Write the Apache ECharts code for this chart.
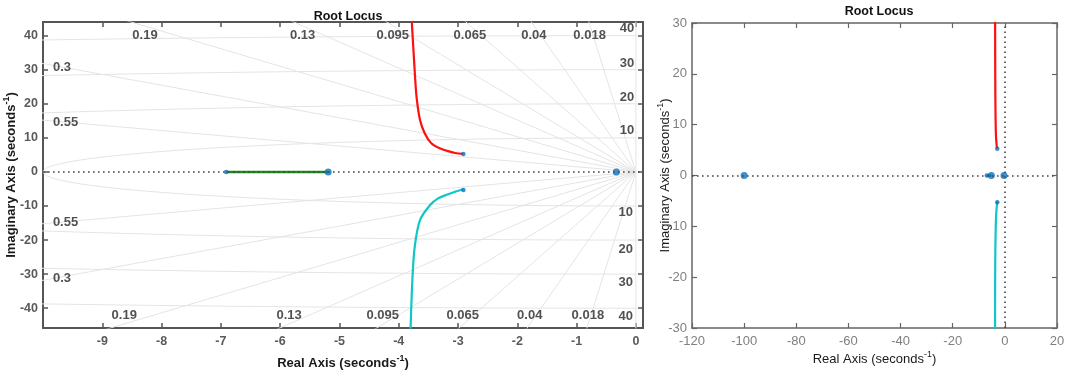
<!DOCTYPE html>
<html><head><meta charset="utf-8">
<script src="https://cdn.jsdelivr.net/npm/echarts@6/dist/echarts.min.js"></script>
<style>html,body{margin:0;padding:0;background:#fff}#c{width:1065px;height:372px}</style>
</head><body><div id="c"></div>
<script>
// ---------------- data ----------------
// root-locus branches
const redX  = [-2.91, -3.05, -3.14, -3.31, -3.45, -3.56, -3.64, -3.70, -3.735, -3.78];
const redY  = [ 5.28,  5.55,  5.95,  6.95,  8.4,  11.3,  15.2,  22.1,  30.9,  44.1];
const cyanX = [-2.91, -3.05, -3.19, -3.33, -3.47, -3.64, -3.73, -3.77, -3.80];
const cyanY = [-5.1,  -5.8,  -6.7,  -7.7,  -9.7, -14.1, -21.9, -31.7, -46.0];
const greenX = [-6.91, -5.19];
const greenY = [0, 0];
// pole / zero markers
const bigMarkX = [-0.33, -5.19, -100];
const bigMarkY = [0, 0, 0];
const smallMarkX = [-6.91, -2.91, -2.91];
const smallMarkY = [0, 5.28, -5.28];
// s-plane grid values
const zetaGrid = [0, 0.018, 0.04, 0.065, 0.095, 0.13, 0.19, 0.3, 0.55];
const wnGrid = [10, 20, 30, 40, 50];
// grid labels (text and position)
const zetaLabelText = ['0.19','0.13','0.095','0.065','0.04','0.018','0.19','0.13','0.095','0.065','0.04','0.018','0.3','0.55','0.55','0.3'];
const zetaLabelX = [-8.28,-5.62,-4.10,-2.80,-1.72,-0.78,-8.63,-5.85,-4.27,-2.92,-1.79,-0.81,-9.68,-9.62,-9.62,-9.68];
const zetaLabelY = [40.1,40.1,40.1,40.1,40.1,40.1,-42.1,-42.1,-42.1,-42.1,-42.1,-42.1,30.7,14.6,-14.9,-31.3];
const wnLabelText = ['40','30','20','10','10','20','30','40'];
const wnLabelX = [-0.15,-0.15,-0.15,-0.15,-0.17,-0.17,-0.17,-0.17];
const wnLabelY = [42.1,31.9,22.0,12.1,-12.0,-22.8,-32.5,-42.5];
// axis ticks
const leftXTicks = [-9,-8,-7,-6,-5,-4,-3,-2,-1,0];
const leftYTicks = [-40,-30,-20,-10,0,10,20,30,40];

// ---------------- build ----------------
const FONT = "'Liberation Sans', Arial, Helvetica, sans-serif";
const zip = (xs, ys) => xs.map((x, i) => [x, ys[i]]);
const GRIDC = '#e4e4e4';
const BLUE = '#0b72c2';

function zetaLine(z) {
  const R = 150, s = Math.sqrt(1 - z * z);
  return [[-R * z, R * s], [0, 0], [-R * z, -R * s]];
}
function wnCircle(r) {
  const pts = [];
  for (let k = 0; k <= 90; k++) {
    const t = Math.PI / 2 + Math.PI * k / 90;
    pts.push([r * Math.cos(t), r * Math.sin(t)]);
  }
  return pts;
}

const series = [];
zetaGrid.forEach(z => series.push({
  type: 'line', xAxisIndex: 0, yAxisIndex: 0, data: zetaLine(z), showSymbol: false, symbol: 'none',
  silent: true, lineStyle: { color: GRIDC, width: 1 }, z: 1
}));
wnGrid.forEach(r => series.push({
  type: 'line', xAxisIndex: 0, yAxisIndex: 0, data: wnCircle(r), showSymbol: false, symbol: 'none',
  silent: true, lineStyle: { color: GRIDC, width: 1 }, z: 1
}));

const dotted = { color: '#444', width: 1.6, type: [1.6, 3.4] };
function branchSeries(ax, both) {
  return [
    { type: 'line', xAxisIndex: ax, yAxisIndex: ax, data: [[0, 0]], symbol: 'none', silent: true, z: 2,
      lineStyle: { width: 0 },
      markLine: { symbol: 'none', silent: true, label: { show: false }, lineStyle: dotted,
        data: both ? [{ yAxis: 0 }, { xAxis: 0 }] : [{ yAxis: 0 }] } },
    { type: 'line', xAxisIndex: ax, yAxisIndex: ax, data: zip(greenX, greenY), symbol: 'none', z: 3,
      lineStyle: { color: '#1a8c1a', width: 2.4 } },
    { type: 'line', xAxisIndex: ax, yAxisIndex: ax, data: zip(redX, redY), symbol: 'none', smooth: 0.3, z: 3,
      lineStyle: { color: '#ff1010', width: 2.2 } },
    { type: 'line', xAxisIndex: ax, yAxisIndex: ax, data: zip(cyanX, cyanY), symbol: 'none', smooth: 0.3, z: 3,
      lineStyle: { color: '#10c6c6', width: 2.2 } },
    { type: 'scatter', xAxisIndex: ax, yAxisIndex: ax, data: zip(bigMarkX, bigMarkY), symbolSize: 7, z: 4,
      itemStyle: { color: BLUE } },
    { type: 'scatter', xAxisIndex: ax, yAxisIndex: ax, data: zip(smallMarkX, smallMarkY), symbolSize: 4.5, z: 4,
      itemStyle: { color: BLUE } }
  ];
}
series.push(...branchSeries(0, false), ...branchSeries(2, true));

function labelSeries(texts, xs, ys) {
  return {
    type: 'scatter', xAxisIndex: 0, yAxisIndex: 0, symbolSize: 1, silent: true, z: 5,
    itemStyle: { color: 'rgba(0,0,0,0)' },
    data: texts.map((t, i) => ({ name: t, value: [xs[i], ys[i]] })),
    label: { show: true, position: 'inside', formatter: '{b}', fontFamily: FONT, fontWeight: 'bold',
      fontSize: 13, color: '#262626' }
  };
}
series.push(labelSeries(zetaLabelText, zetaLabelX, zetaLabelY));
series.push(labelSeries(wnLabelText, wnLabelX, wnLabelY));

function richName(bold) {
  const w = bold ? 'bold' : 'normal';
  return {
    rich: {
      n: { fontFamily: FONT, fontSize: 13, fontWeight: w, color: '#1a1a1a', lineHeight: 18 },
      s: { fontFamily: FONT, fontSize: 9, fontWeight: w, color: '#1a1a1a', lineHeight: 12, verticalAlign: 'top' }
    }
  };
}
const L_LINE = { show: true, onZero: false, lineStyle: { color: '#555', width: 2 } };
const R_LINE = { show: true, onZero: false, lineStyle: { color: '#666', width: 1.5 } };
const tickL = vals => ({ show: true, inside: true, length: 5, customValues: vals, lineStyle: { color: '#555', width: 1.5 } });
const tickR = { show: true, inside: true, length: 5, lineStyle: { color: '#666', width: 1.2 } };

const option = {
  animation: false,
  backgroundColor: '#fff',
  title: [
    { text: 'Root Locus', left: 343, top: 5, textAlign: 'center',
      textStyle: { fontFamily: FONT, fontSize: 12.5, fontWeight: 'bold', color: '#111' } },
    { text: 'Root Locus', left: 874, top: 0, textAlign: 'center',
      textStyle: { fontFamily: FONT, fontSize: 12.5, fontWeight: 'bold', color: '#111' } }
  ],
  grid: [
    { left: 43, top: 22, width: 600, height: 306, containLabel: false, outerBoundsMode: 'none' },
    { left: 692, top: 23, width: 365, height: 305, containLabel: false, outerBoundsMode: 'none' }
  ],
  xAxis: [
    { type: 'value', gridIndex: 0, position: 'bottom', min: -10, max: 0.12,
      axisLine: L_LINE, axisTick: tickL(leftXTicks), splitLine: { show: false },
      axisLabel: { customValues: leftXTicks, margin: 7, fontFamily: FONT, fontSize: 12.5, fontWeight: 'bold', color: '#5a5a5a' },
      name: '{n|Real Axis (seconds}{s|-1}{n|)}', nameLocation: 'middle', nameGap: 26, nameMoveOverlap: false,
      nameTextStyle: richName(true) },
    { type: 'value', gridIndex: 0, position: 'top', min: -10, max: 0.12,
      axisLine: L_LINE, axisTick: tickL(leftXTicks), splitLine: { show: false }, axisLabel: { show: false } },
    { type: 'value', gridIndex: 1, position: 'bottom', min: -120, max: 20, interval: 20,
      axisLine: R_LINE, axisTick: tickR, splitLine: { show: false },
      axisLabel: { margin: 7, fontFamily: FONT, fontSize: 13, color: '#7f7f7f', showMinLabel: true, showMaxLabel: true },
      name: '{n|Real Axis (seconds}{s|-1}{n|)}', nameLocation: 'middle', nameGap: 22, nameMoveOverlap: false,
      nameTextStyle: richName(false) },
    { type: 'value', gridIndex: 1, position: 'top', min: -120, max: 20, interval: 20,
      axisLine: R_LINE, axisTick: tickR, splitLine: { show: false }, axisLabel: { show: false } }
  ],
  yAxis: [
    { type: 'value', gridIndex: 0, position: 'left', min: -45.8, max: 44,
      axisLine: L_LINE, axisTick: tickL(leftYTicks), splitLine: { show: false },
      axisLabel: { customValues: leftYTicks, margin: 5, fontFamily: FONT, fontSize: 12.5, fontWeight: 'bold', color: '#5a5a5a' },
      name: '{n|Imaginary Axis (seconds}{s|-1}{n|)}', nameLocation: 'middle', nameGap: 23, nameRotate: 90,
      nameMoveOverlap: false, nameTextStyle: richName(true) },
    { type: 'value', gridIndex: 0, position: 'right', min: -45.8, max: 44,
      axisLine: L_LINE, axisTick: tickL(leftYTicks), splitLine: { show: false }, axisLabel: { show: false } },
    { type: 'value', gridIndex: 1, position: 'left', min: -30, max: 30, interval: 10,
      axisLine: R_LINE, axisTick: tickR, splitLine: { show: false },
      axisLabel: { margin: 5, fontFamily: FONT, fontSize: 13, color: '#7f7f7f' },
      name: '{n|Imaginary Axis (seconds}{s|-1}{n|)}', nameLocation: 'middle', nameGap: 18, nameRotate: 90,
      nameMoveOverlap: false, nameTextStyle: richName(false) },
    { type: 'value', gridIndex: 1, position: 'right', min: -30, max: 30, interval: 10,
      axisLine: R_LINE, axisTick: tickR, splitLine: { show: false }, axisLabel: { show: false } }
  ],
  series: series
};
echarts.init(document.getElementById('c'), null, { renderer: 'canvas' }).setOption(option);
</script>
</body></html>
